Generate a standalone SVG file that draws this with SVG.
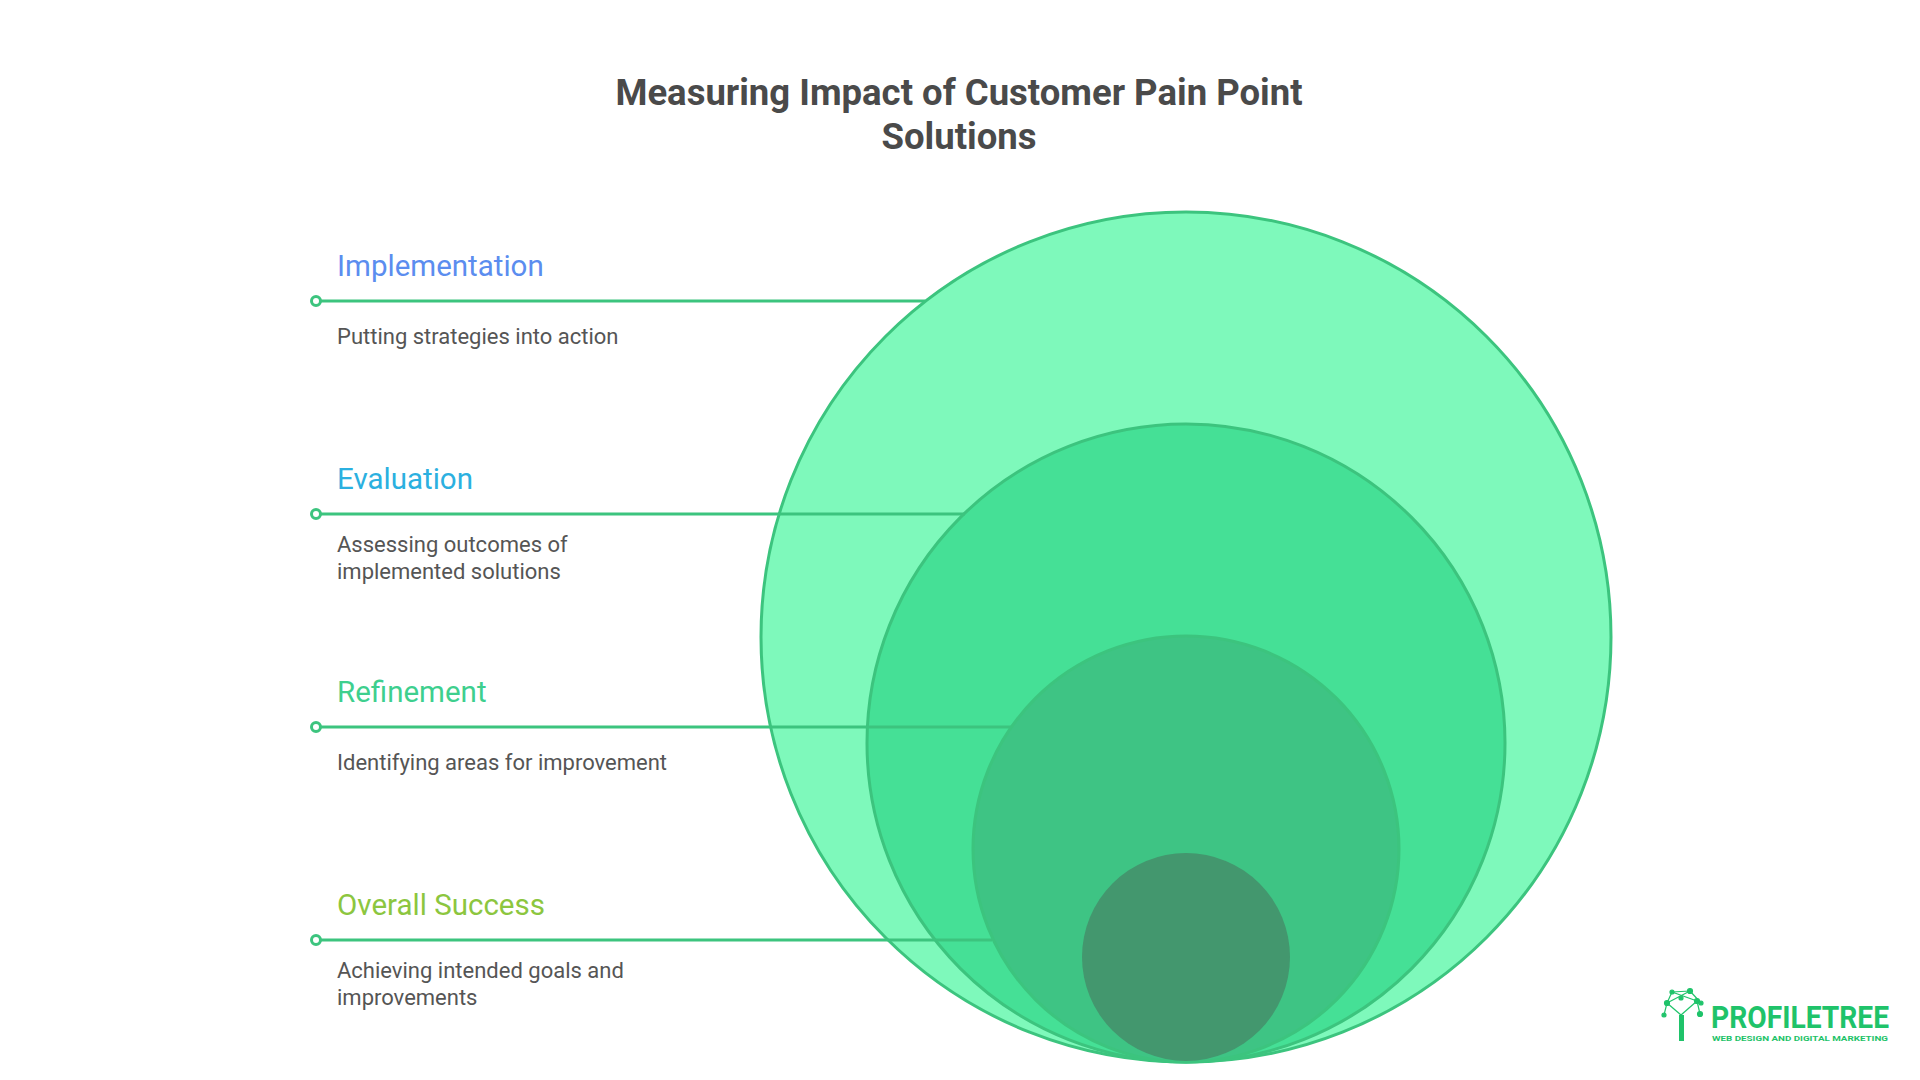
<svg xmlns="http://www.w3.org/2000/svg" width="1920" height="1080" viewBox="0 0 1920 1080">
<style>
.t{font-family:Roboto,"Liberation Sans",sans-serif;font-weight:bold;font-size:36.5px;fill:#4a4a4a;text-anchor:middle}
.h{font-family:Roboto,"Liberation Sans",sans-serif;font-size:29.5px}
.d{font-family:Roboto,"Liberation Sans",sans-serif;font-size:22px;fill:#555}
.c{stroke:#3cc47e;stroke-width:3}
.l{stroke:#3cc47e;stroke-width:3;fill:none}
.dot{fill:#fff;stroke:#3cc47e;stroke-width:3}
</style>
<rect width="1920" height="1080" fill="#fff"/>
<text class="t" x="959" y="105">Measuring Impact of Customer Pain Point</text>
<text class="t" x="959" y="149">Solutions</text>
<g id="circles">
<circle class="c" cx="1186" cy="637" r="425" fill="#7ef9bb"/>
<circle class="c" cx="1186" cy="743" r="319" fill="#45e096"/>
<circle class="c" cx="1186" cy="849" r="213" fill="#3ec484" stroke="#3ab87a"/>
<circle cx="1186" cy="957" r="104" fill="#43976e"/>
</g>
<g id="connectors">
<line class="l" x1="320" y1="301" x2="925" y2="301"/>
<line class="l" x1="320" y1="514" x2="965" y2="514"/>
<line class="l" x1="320" y1="727" x2="1012" y2="727"/>
<line class="l" x1="320" y1="940" x2="992" y2="940"/>
<circle class="dot" cx="316" cy="301" r="4.5"/>
<circle class="dot" cx="316" cy="514" r="4.5"/>
<circle class="dot" cx="316" cy="727" r="4.5"/>
<circle class="dot" cx="316" cy="940" r="4.5"/>
</g>
<g id="implementation">
<text class="h" x="337" y="276" fill="#5b8def">Implementation</text>
<text class="d" x="337" y="344">Putting strategies into action</text>
</g>
<g id="evaluation">
<text class="h" x="337" y="489" fill="#2bb0e0">Evaluation</text>
<text class="d" x="337" y="552">Assessing outcomes of</text>
<text class="d" x="337" y="579">implemented solutions</text>
</g>
<g id="refinement">
<text class="h" x="337" y="702" fill="#3ecf8e">Refinement</text>
<text class="d" x="337" y="770">Identifying areas for improvement</text>
</g>
<g id="success">
<text class="h" x="337" y="915" fill="#8cc63f">Overall Success</text>
<text class="d" x="337" y="978">Achieving intended goals and</text>
<text class="d" x="337" y="1005">improvements</text>
</g>
<g id="logo">
<g stroke="#1fc36a" stroke-width="1.2" fill="#1fc36a">
<rect x="1679" y="1015" width="5" height="26" stroke="none"/>
<line x1="1681" y1="1015" x2="1667" y2="1003"/><line x1="1681" y1="1015" x2="1697" y2="1001"/>
<line x1="1667" y1="1003" x2="1672" y2="992"/><line x1="1672" y1="992" x2="1690" y2="991"/><line x1="1690" y1="991" x2="1701" y2="1003"/>
<line x1="1667" y1="1003" x2="1690" y2="991"/><line x1="1672" y1="992" x2="1697" y2="1001"/><line x1="1664" y1="1015" x2="1667" y2="1003"/><line x1="1697" y1="1001" x2="1700" y2="1014"/>
<circle cx="1667" cy="1003" r="2.5"/><circle cx="1697" cy="1001" r="2.5"/><circle cx="1672" cy="992" r="2"/><circle cx="1690" cy="991" r="2.5"/><circle cx="1701" cy="1003" r="2"/><circle cx="1664" cy="1015" r="2"/><circle cx="1700" cy="1014" r="2.5"/><circle cx="1681" cy="998" r="2"/>
</g>
<text x="1711" y="1028" font-family="Roboto,'Liberation Sans',sans-serif" font-weight="bold" font-size="31" fill="#1fc36a" textLength="178" lengthAdjust="spacingAndGlyphs">PROFILETREE</text>
<text x="1712" y="1041" font-family="Roboto,'Liberation Sans',sans-serif" font-weight="bold" font-size="7.5" fill="#1fc36a" textLength="176" lengthAdjust="spacingAndGlyphs">WEB DESIGN AND DIGITAL MARKETING</text>
</g>
</svg>
